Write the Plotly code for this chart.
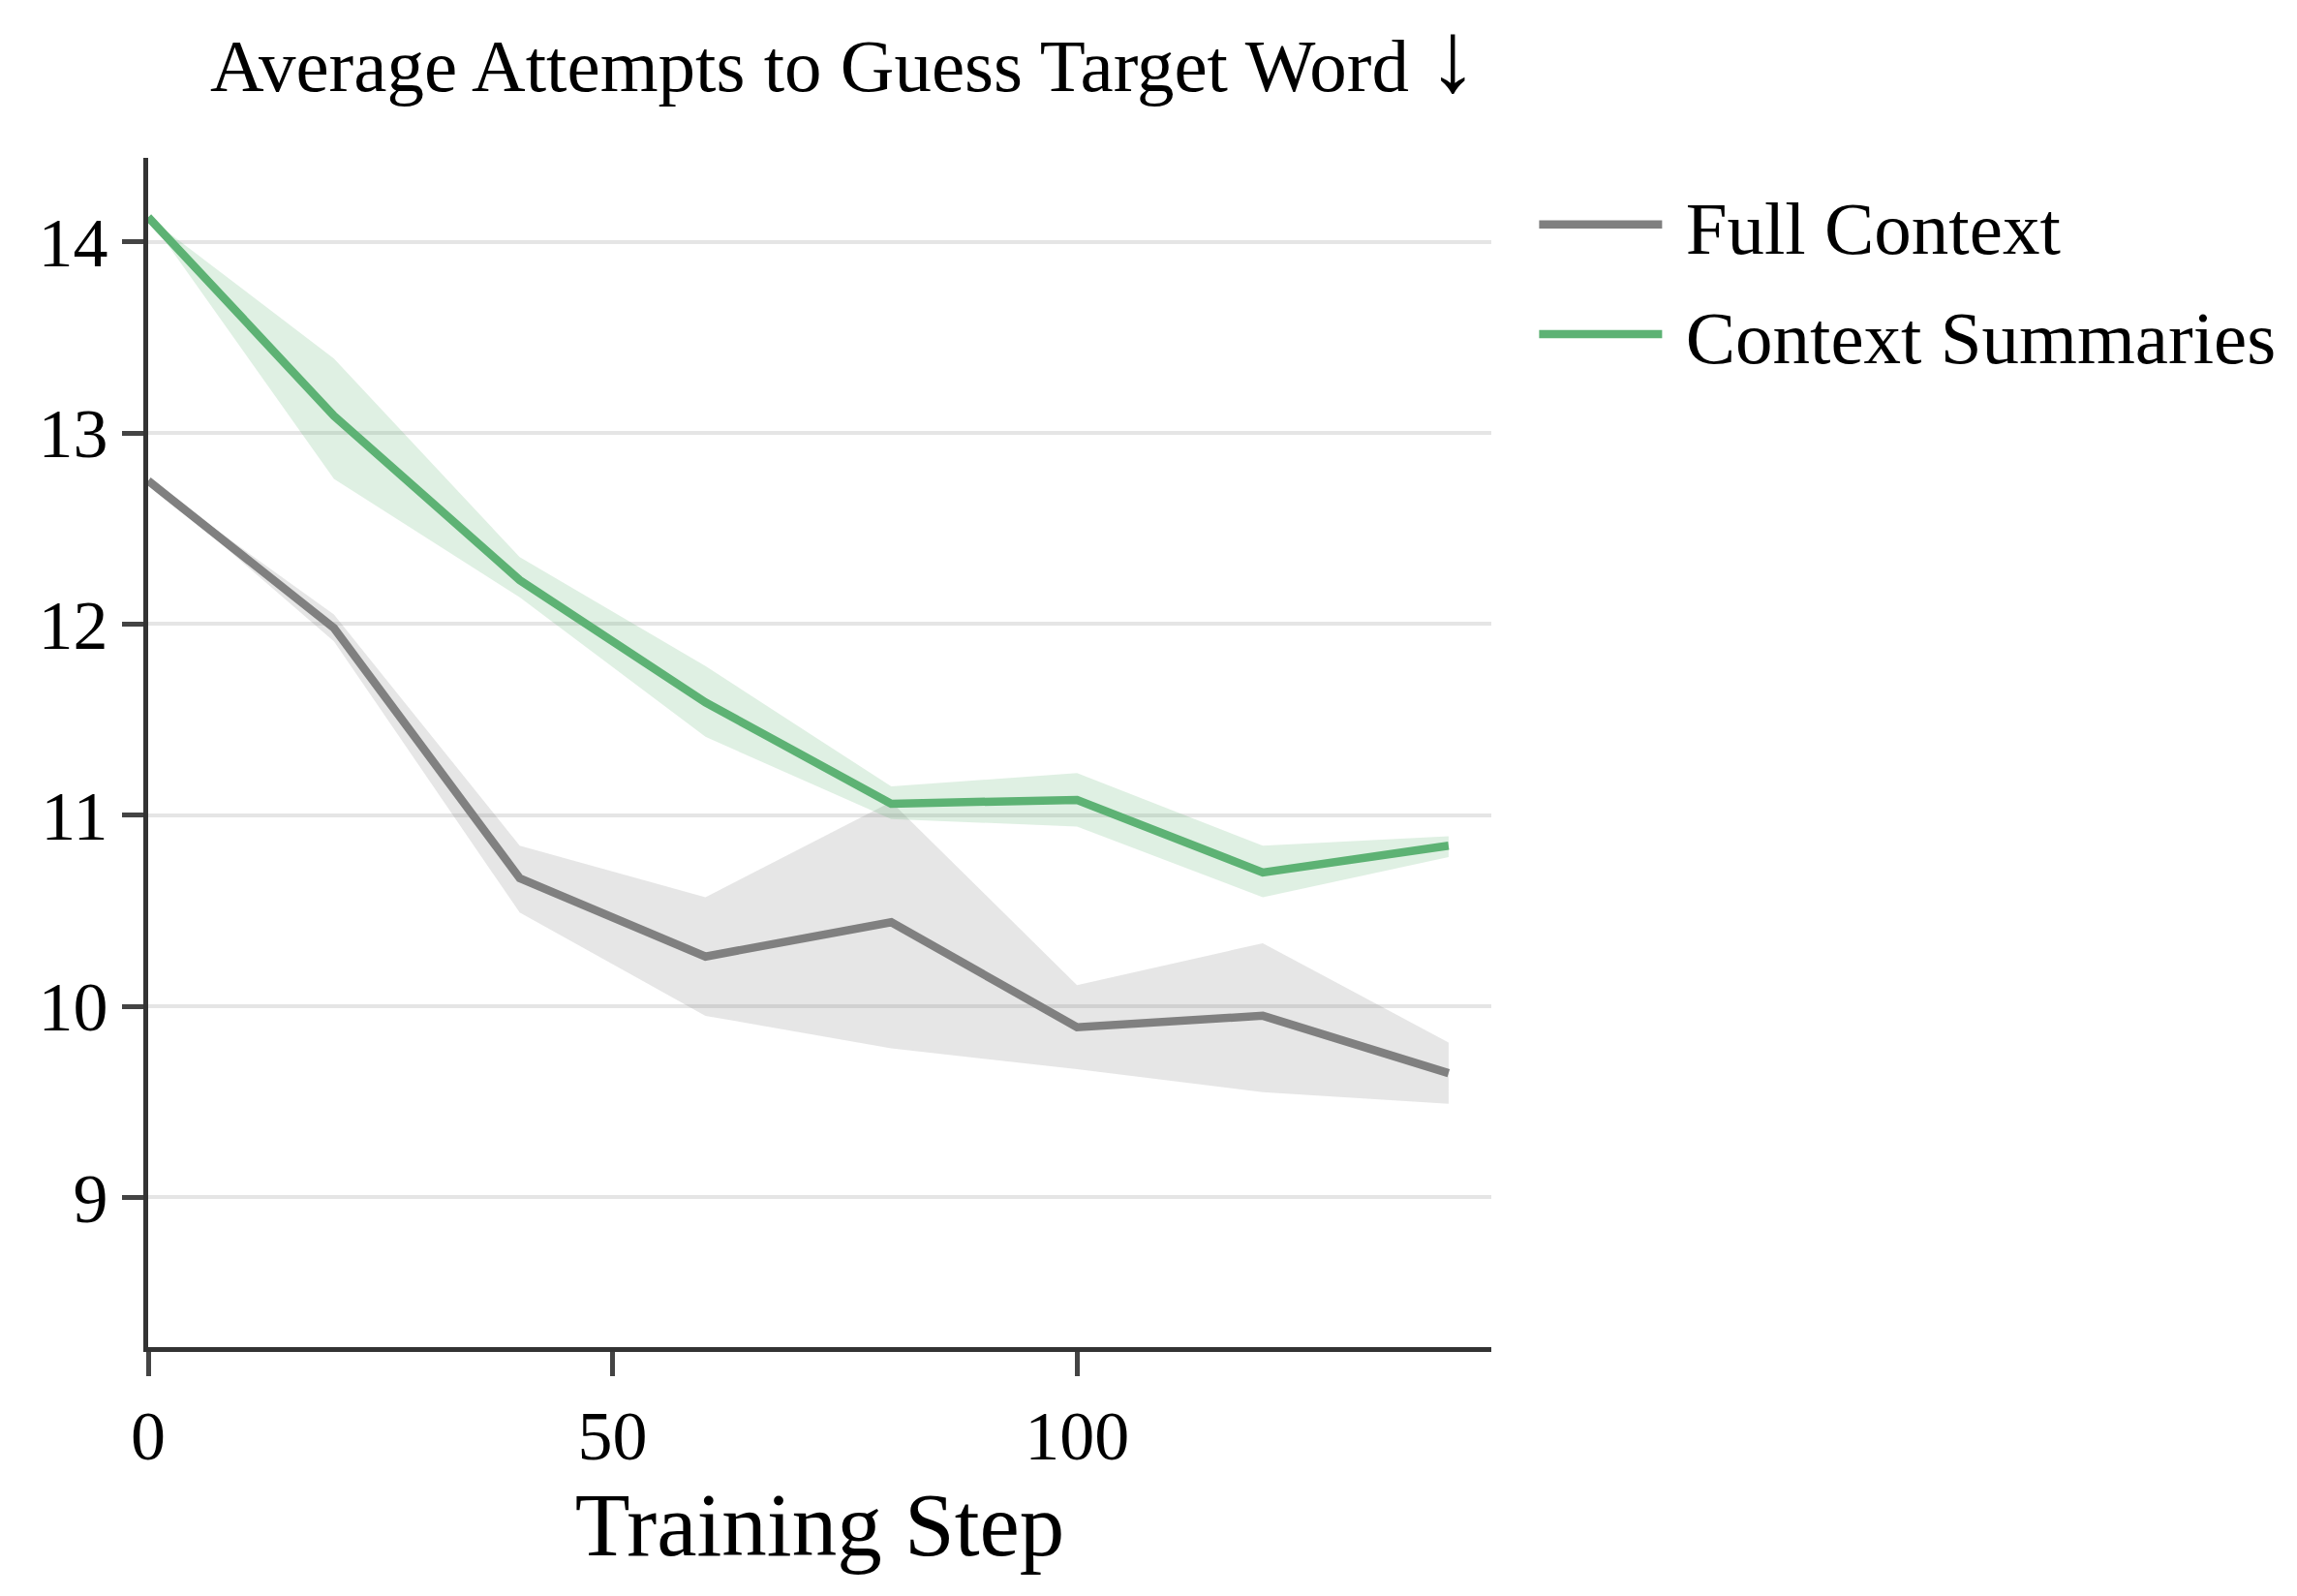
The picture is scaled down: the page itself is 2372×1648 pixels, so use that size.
import plotly.graph_objects as go

steps = [0, 20, 40, 60, 80, 100, 120, 140]

full_mean = [12.75, 11.98, 10.67, 10.26, 10.44, 9.89, 9.95, 9.65]
full_lo = [12.75, 11.91, 10.49, 9.95, 9.78, 9.67, 9.55, 9.49]
full_hi = [12.75, 12.05, 10.84, 10.57, 11.07, 10.11, 10.33, 9.81]

summ_mean = [14.13, 13.09, 12.23, 11.59, 11.06, 11.08, 10.70, 10.84]
summ_lo = [14.13, 12.76, 12.14, 11.41, 10.98, 10.94, 10.57, 10.78]
summ_hi = [14.13, 13.39, 12.35, 11.78, 11.15, 11.22, 10.84, 10.89]

series_names = ["Full Context", "Context Summaries"]
x_ticks = [0, 50, 100]
y_ticks = [9, 10, 11, 12, 13, 14]

GRAY = "#808080"
GREEN = "#5db274"
FONT = "Liberation Serif"

fig = go.Figure()

def add_series(name, mean, lo, hi, color, fill, group):
    fig.add_trace(go.Scatter(x=steps, y=hi, mode="lines", line=dict(width=0, color=color),
                             showlegend=False, hoverinfo="skip", legendgroup=group))
    fig.add_trace(go.Scatter(x=steps, y=lo, mode="lines", line=dict(width=0, color=color),
                             fill="tonexty", fillcolor=fill, showlegend=False,
                             hoverinfo="skip", legendgroup=group))
    fig.add_trace(go.Scatter(x=steps, y=mean, mode="lines", name="\u00a0" + name,
                             line=dict(width=8.5, color=color), legendgroup=group))

add_series(series_names[0], full_mean, full_lo, full_hi, GRAY, "rgba(128,128,128,0.2)", "g1")
add_series(series_names[1], summ_mean, summ_lo, summ_hi, GREEN, "rgba(93,178,116,0.2)", "g2")

fig.update_layout(
    width=2372, height=1648,
    margin=dict(l=153, r=832, t=163, b=257),
    paper_bgcolor="white", plot_bgcolor="white",
    font=dict(family=FONT, size=72, color="black"),
    showlegend=True,
    legend=dict(x=1.032, y=0.99, xanchor="left", yanchor="top",
                font=dict(family=FONT, size=77, color="black"),
                itemwidth=127, tracegroupgap=10, bgcolor="rgba(0,0,0,0)"),
    annotations=[dict(text="Average Attempts to Guess Target Word <span style='font-size:104px'>↓</span>",
                      xref="paper", yref="paper",
                      x=(871 - 153) / 1387, y=1 + (163 - 59) / 1228, xanchor="center", yanchor="middle",
                      showarrow=False, font=dict(family=FONT, size=77, color="black"))],
)

fig.update_xaxes(
    range=[0, 144.6], tickvals=x_ticks, ticktext=[str(v) for v in x_ticks],
    showgrid=False, zeroline=False,
    showline=True, linecolor="#333333", linewidth=5,
    ticks="outside", ticklen=25, tickwidth=5, tickcolor="#444444",
    tickfont=dict(family=FONT, size=72, color="black"),
    title=dict(text="Training Step", font=dict(family=FONT, size=93, color="black"), standoff=20),
)
fig.update_yaxes(
    range=[8.216, 14.44], tickvals=y_ticks, ticktext=[str(v) for v in y_ticks],
    showgrid=True, gridcolor="#e5e5e5", gridwidth=4, zeroline=False,
    showline=True, linecolor="#333333", linewidth=5,
    ticks="outside", ticklen=22, tickwidth=5, tickcolor="#444444",
    tickfont=dict(family=FONT, size=72, color="black"), ticklabelstandoff=0,
)

fig.write_html("out.html")
